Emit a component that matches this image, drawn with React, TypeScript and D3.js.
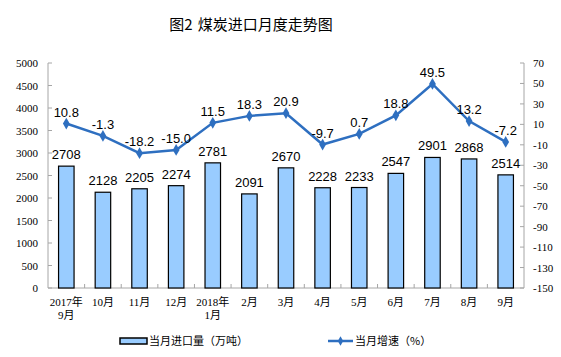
import React from "react";
import * as d3 from "d3";

const categories = ["2017年\n9月", "10月", "11月", "12月", "2018年\n1月", "2月", "3月", "4月", "5月", "6月", "7月", "8月", "9月"];
const importVolume = [2708, 2128, 2205, 2274, 2781, 2091, 2670, 2228, 2233, 2547, 2901, 2868, 2514];
const growthRate = [10.8, -1.3, -18.2, -15.0, 11.5, 18.3, 20.9, -9.7, 0.7, 18.8, 49.5, 13.2, -7.2];
const leftTicks = [0, 500, 1000, 1500, 2000, 2500, 3000, 3500, 4000, 4500, 5000];
const rightTicks = [70, 50, 30, 10, -10, -30, -50, -70, -90, -110, -130, -150];

const W = 561, H = 357;
const L = 48, R = 524, T = 63, B = 288;
const axisColor = "#a6a6a6";
const lineColor = "#2e6fc0";
const serif = "'Liberation Serif', 'Times New Roman', 'Noto Sans CJK SC', serif";
const sans = "'Liberation Sans', Arial, sans-serif";
const cjk = "'Noto Sans CJK SC', sans-serif";

export default function App() {
  const x = d3.scaleBand<number>().domain(d3.range(categories.length)).range([L, R]).paddingInner(0).paddingOuter(0);
  const yL = d3.scaleLinear().domain([0, 5000]).range([B, T]);
  const yR = d3.scaleLinear().domain([-150, 70]).range([B, T]);
  const bw = 15.5;
  const cx = (i: number) => (x(i) as number) + x.bandwidth() / 2;
  const line = d3.line<number>().x((_, i) => cx(i)).y((d) => yR(d));

  return (
    <svg width={W} height={H} style={{ position: "absolute", left: 0, top: 0 }}>
      <rect width={W} height={H} fill="#fff" />
      <text x={251} y={30} textAnchor="middle" fontFamily={cjk} fontSize={15} fontWeight={400} fill="#000" style={{ whiteSpace: "pre" }}>
        <tspan>图2</tspan>
        <tspan dx={5}>煤炭进口月度走势图</tspan>
      </text>

      {/* axes */}
      <line x1={L} x2={L} y1={T} y2={B} stroke={axisColor} />
      <line x1={R} x2={R} y1={T} y2={B} stroke={axisColor} />
      <line x1={L} x2={R} y1={B} y2={B} stroke={axisColor} />
      {leftTicks.map((t) => (
        <g key={"l" + t}>
          <line x1={L} x2={L + 4} y1={yL(t)} y2={yL(t)} stroke={axisColor} />
          <text x={38} y={yL(t) + 4} textAnchor="end" fontFamily={serif} fontSize={11} fill="#000">{t}</text>
        </g>
      ))}
      {rightTicks.map((t) => (
        <g key={"r" + t}>
          <line x1={R - 4} x2={R} y1={yR(t)} y2={yR(t)} stroke={axisColor} />
          <text x={533} y={yR(t) + 4} textAnchor="start" fontFamily={serif} fontSize={11} fill="#000">{t}</text>
        </g>
      ))}
      {d3.range(1, categories.length).map((i) => (
        <line key={"s" + i} x1={x(i) as number} x2={x(i) as number} y1={B - 4} y2={B} stroke={axisColor} />
      ))}
      {categories.map((c, i) => (
        <text key={"c" + i} x={cx(i)} y={306} textAnchor="middle" fontFamily={serif} fontSize={11} fill="#000">
          {c.split("\n").map((p, j) => (
            <tspan key={j} x={cx(i)} dy={j === 0 ? 0 : 13}>{p}</tspan>
          ))}
        </text>
      ))}

      {/* bars */}
      {importVolume.map((v, i) => (
        <g key={"b" + i}>
          <rect x={cx(i) - bw / 2} y={yL(v)} width={bw} height={B - yL(v)} fill="#99ccff" stroke="#000" strokeWidth={1.2} />
          <text x={cx(i)} y={yL(v) - 7} textAnchor="middle" fontFamily={sans} fontSize={13} fill="#000">{v}</text>
        </g>
      ))}

      {/* line */}
      <path d={line(growthRate) || ""} fill="none" stroke={lineColor} strokeWidth={2.5} />
      {growthRate.map((v, i) => (
        <g key={"p" + i}>
          <path d={d3.symbol(d3.symbolDiamond, 40)() || ""} transform={`translate(${cx(i)},${yR(v)})`} fill={lineColor} />
          <text x={cx(i)} y={yR(v) - 7} textAnchor="middle" fontFamily={sans} fontSize={13} fill="#000">{v.toFixed(1)}</text>
        </g>
      ))}

      {/* legend */}
      <rect x={120} y={338} width={27} height={6} fill="#99ccff" stroke="#000" strokeWidth={1.5} />
      <text x={149} y={345} fontFamily={cjk} fontSize={11} fill="#000">当月进口量（万吨）</text>
      <line x1={328} x2={353} y1={341} y2={341} stroke={lineColor} strokeWidth={2.5} />
      <path d={d3.symbol(d3.symbolDiamond, 25)() || ""} transform="translate(340.5,341)" fill={lineColor} />
      <text x={355} y={345} fontFamily={cjk} fontSize={11} fill="#000">当月增速（%）</text>
    </svg>
  );
}
